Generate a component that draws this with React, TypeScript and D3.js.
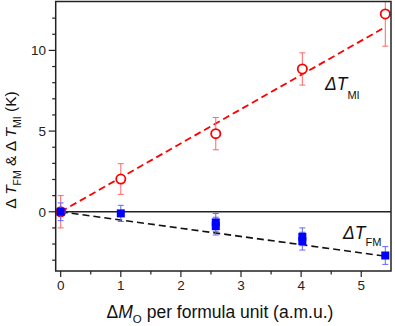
import React from "react";
import * as d3 from "d3";

const miX = [0, 1.0, 2.58, 4.02, 5.4];
const miY = [0, 2.03, 4.84, 8.85, 12.26];
const miErr = [1.0, 0.95, 1.0, 1.0, 2.0];

const fmX = [0, 1.0, 2.58, 2.58, 4.02, 4.02, 5.4];
const fmY = [0, -0.1, -0.66, -0.89, -1.55, -1.82, -2.71];
const fmErr = [0.55, 0.5, 0.55, 0.55, 0.55, 0.55, 0.55];

const miFit = [0, 2.12];
const fmFit = [0, -0.51];
const fitRange = [0, 5.4];

const xMajor = [0, 1, 2, 3, 4, 5];
const yMajor = [0, 5, 10];

const W = 395, H = 326;
const L = 55.7, R = 391, T = 1.5, B = 271;

export default function App() {
  const x = d3.scaleLinear().domain([-0.083, 5.495]).range([L, R]);
  const y = d3.scaleLinear().domain([-3.67, 13.03]).range([B, T]);
  const xMinor = d3.range(0, 5.01, 0.5);
  const yMinor = d3.range(-3, 12.01, 1);
  const miLine = d3.line<number>().x((v) => x(v)).y((v) => y(miFit[0] + miFit[1] * v))(fitRange);
  const fmLine = d3.line<number>().x((v) => x(v)).y((v) => y(fmFit[0] + fmFit[1] * v))(fitRange);
  const font = "'Liberation Sans', Arial, sans-serif";
  const cap = 3;
  return (
    <svg width={W} height={H} style={{ position: "absolute", left: 0, top: 0 }} fontFamily={font}>
      <defs>
        <clipPath id="clip">
          <rect x={L} y={T} width={R - L} height={B - T} />
        </clipPath>
      </defs>
      <rect width={W} height={H} fill="#fff" />
      <line x1={L} x2={R} y1={y(0)} y2={y(0)} stroke="#222" strokeWidth={1.6} />
      <g clipPath="url(#clip)">
        <path d={miLine ?? ""} stroke="#ff0000" strokeWidth={1.8} strokeDasharray="7,4" fill="none" />
        <path d={fmLine ?? ""} stroke="#111" strokeWidth={1.6} strokeDasharray="7,4" fill="none" />
        {miX.map((xv, i) => (
          <g key={"me" + i} stroke="#ff6666" strokeWidth={1}>
            <line x1={x(xv)} x2={x(xv)} y1={y(miY[i] - miErr[i])} y2={y(miY[i] + miErr[i])} />
            <line x1={x(xv) - cap} x2={x(xv) + cap} y1={y(miY[i] - miErr[i])} y2={y(miY[i] - miErr[i])} />
            <line x1={x(xv) - cap} x2={x(xv) + cap} y1={y(miY[i] + miErr[i])} y2={y(miY[i] + miErr[i])} />
          </g>
        ))}
        {miX.map((xv, i) => (
          <circle key={"mc" + i} cx={x(xv)} cy={y(miY[i])} r={4.6} fill="#fff" stroke="#ff0000" strokeWidth={1.8} />
        ))}
        {fmX.map((xv, i) => (
          <g key={"fe" + i} stroke="#6666ff" strokeWidth={1}>
            <line x1={x(xv)} x2={x(xv)} y1={y(fmY[i] - fmErr[i])} y2={y(fmY[i] + fmErr[i])} />
            <line x1={x(xv) - cap} x2={x(xv) + cap} y1={y(fmY[i] - fmErr[i])} y2={y(fmY[i] - fmErr[i])} />
            <line x1={x(xv) - cap} x2={x(xv) + cap} y1={y(fmY[i] + fmErr[i])} y2={y(fmY[i] + fmErr[i])} />
          </g>
        ))}
        {fmX.map((xv, i) => (
          <rect key={"fs" + i} x={x(xv) - 4} y={y(fmY[i]) - 4} width={8} height={8} fill="#0000ff" />
        ))}
      </g>
      <rect x={L} y={T} width={R - L} height={B - T} fill="none" stroke="#222" strokeWidth={1.5} />
      {xMinor.map((v) => (
        <line key={"xt" + v} x1={x(v)} x2={x(v)} y1={B} y2={B + (Number.isInteger(v) ? 6 : 3.5)} stroke="#222" strokeWidth={1.2} />
      ))}
      {xMajor.map((v) => (
        <text key={"xl" + v} x={x(v)} y={290} fontSize={13.5} textAnchor="middle" fill="#222">{v}</text>
      ))}
      {yMinor.map((v) => (
        <line key={"yt" + v} x1={L} x2={L - (v % 5 === 0 ? 7 : 3.5)} y1={y(v)} y2={y(v)} stroke="#222" strokeWidth={1.2} />
      ))}
      {yMajor.map((v) => (
        <text key={"yl" + v} x={46} y={y(v) + 4.8} fontSize={13.5} textAnchor="end" fill="#222">{v}</text>
      ))}
      <text x={325} y={90} fontSize={17.5} fill="#111">
        <tspan fontStyle="italic">ΔT</tspan>
        <tspan fontSize={11} dy={9}>MI</tspan>
      </text>
      <text x={343} y={239} fontSize={17.5} fill="#111">
        <tspan fontStyle="italic">ΔT</tspan>
        <tspan fontSize={11} dy={7}>FM</tspan>
      </text>
      <text x={220} y={318} fontSize={17.5} textAnchor="middle" fill="#111">
        <tspan>Δ</tspan>
        <tspan fontStyle="italic">M</tspan>
        <tspan fontSize={11.5} dy={5}>O</tspan>
        <tspan dy={-5}> per formula unit (a.m.u.)</tspan>
      </text>
      <text transform={`translate(16,150) rotate(-90)`} fontSize={15.5} textAnchor="middle" fill="#111">
        <tspan>Δ </tspan>
        <tspan fontStyle="italic">T</tspan>
        <tspan fontSize={10.5} dy={5}>FM</tspan>
        <tspan dy={-5}> &amp; Δ </tspan>
        <tspan fontStyle="italic">T</tspan>
        <tspan fontSize={10.5} dy={5}>MI</tspan>
        <tspan dy={-5}> (K)</tspan>
      </text>
    </svg>
  );
}
